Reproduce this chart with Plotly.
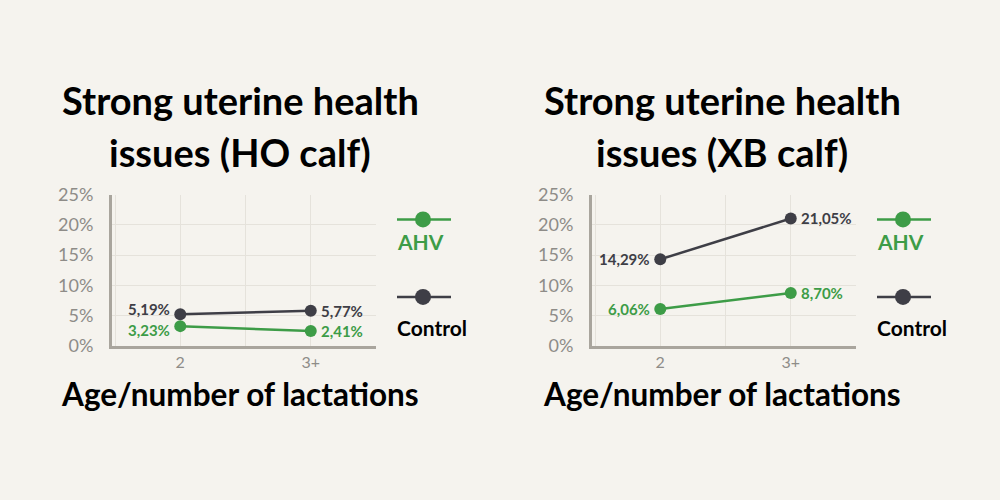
import plotly.graph_objects as go

categories = ["2", "3+"]
cat_pos = [1, 2]
ho_ahv = [3.23, 2.41]
ho_control = [5.19, 5.77]
xb_ahv = [6.06, 8.70]
xb_control = [14.29, 21.05]
y_ticks = [0, 5, 10, 15, 20, 25]
y_ticktext = ["0%", "5%", "10%", "15%", "20%", "25%"]
title_line1 = ["Strong uterine health", "Strong uterine health"]
title_line2 = ["issues (HO calf)", "issues (XB calf)"]
x_title = "Age/number of lactations"
series_names = ["AHV", "Control"]

GREEN = "#3d9c47"
DARK = "#3e3e46"
BG = "#f5f3ee"
GRID = "#e5e2db"
AXIS = "#a9a59d"
TICK = "#8e8c88"
FONT = "Lato"

def fmt(v):
    return f"{v:.2f}".replace(".", ",") + "%"

def py(px):
    return 1 - px / 500

fig = go.Figure()

panels = [
    (ho_ahv, ho_control, "x", "y", {"ctrl": [5, 0], "ahv": [-4, 0]}),
    (xb_ahv, xb_control, "x2", "y2", {"ctrl": [0, 0], "ahv": [0, 0]}),
]

annotations = []
for ahv, ctrl, xa, ya, shifts in panels:
    for key, vals, col in [("ctrl", ctrl, DARK), ("ahv", ahv, GREEN)]:
        fig.add_trace(go.Scatter(
            x=cat_pos, y=vals, xaxis=xa, yaxis=ya,
            mode="lines+markers",
            line=dict(color=col, width=2.5),
            marker=dict(color=col, size=12),
            showlegend=False, cliponaxis=False,
        ))
        for j, (xv, v) in enumerate(zip(cat_pos, vals)):
            annotations.append(dict(
                text=f"<b>{fmt(v)}</b>", x=xv, y=v, xref=xa, yref=ya,
                showarrow=False, xanchor="right" if j == 0 else "left",
                yanchor="middle", xshift=-8 if j == 0 else 8,
                yshift=shifts[key][j],
                font=dict(family=FONT, size=15, color=col)))

def xaxis_cfg(dom):
    return dict(domain=dom, range=[0.477, 2.5], tickvals=[0.5, 1, 1.5, 2, 2.5],
                ticktext=["", categories[0], "", categories[1], ""],
                showgrid=True, gridcolor=GRID, gridwidth=1,
                showline=True, linecolor=AXIS, linewidth=3,
                ticks="", zeroline=False,
                tickfont=dict(family=FONT, size=16, color=TICK))

def yaxis_cfg(anchor):
    return dict(domain=[py(349), py(191)], range=[0, 25], tickvals=y_ticks,
                ticktext=y_ticktext, showgrid=True, gridcolor=GRID, gridwidth=1,
                showline=True, linecolor=AXIS, linewidth=3, ticks="",
                zeroline=False, anchor=anchor, ticklabelstandoff=12,
                tickfont=dict(family=FONT, size=18, color=TICK))

fig.update_layout(
    width=1000, height=500,
    margin=dict(l=0, r=0, t=0, b=0),
    paper_bgcolor=BG, plot_bgcolor=BG,
    xaxis=dict(xaxis_cfg([0.112, 0.376]), anchor="y"),
    yaxis=yaxis_cfg("x"),
    xaxis2=dict(xaxis_cfg([0.592, 0.856]), anchor="y2"),
    yaxis2=yaxis_cfg("x2"),
)

shapes = []
for i, cx in enumerate([0.240, 0.722]):
    for txt, ty in [(title_line1[i], 92), (title_line2[i], 146)]:
        annotations.append(dict(text=f"<b>{txt}</b>", x=cx, y=py(ty),
                                xref="paper", yref="paper", showarrow=False,
                                xanchor="center", yanchor="middle",
                                font=dict(family=FONT, size=38, color="#000000")))
    annotations.append(dict(text=f"<b>{x_title}</b>", x=cx, y=py(400),
                            xref="paper", yref="paper", showarrow=False,
                            xanchor="center", yanchor="middle",
                            font=dict(family=FONT, size=31.5, color="#000000")))
    lx0 = [0.397, 0.877][i]
    for name, col, ly, ty, tcol in [(series_names[0], GREEN, 217, 240, GREEN),
                                    (series_names[1], DARK, 298, 330, "#000000")]:
        yy = py(ly)
        shapes.append(dict(type="line", xref="paper", yref="paper",
                           x0=lx0, x1=lx0 + 0.054, y0=yy, y1=yy,
                           line=dict(color=col, width=2.5)))
        shapes.append(dict(type="circle", xref="paper", yref="paper",
                           xsizemode="pixel", ysizemode="pixel",
                           xanchor=lx0 + 0.026, yanchor=yy,
                           x0=-8, x1=8, y0=-8, y1=8,
                           fillcolor=col, line=dict(color=col, width=0)))
        annotations.append(dict(text=f"<b>{name}</b>", x=lx0 - 0.002, y=py(ty),
                                xref="paper", yref="paper", showarrow=False,
                                xanchor="left", yanchor="middle",
                                font=dict(family=FONT, size=21, color=tcol)))

fig.update_layout(annotations=annotations, shapes=shapes)
fig.write_html("out.html", config={"displayModeBar": False},
               post_script="document.body.style.margin='0';document.body.style.background='#f5f3ee';")
